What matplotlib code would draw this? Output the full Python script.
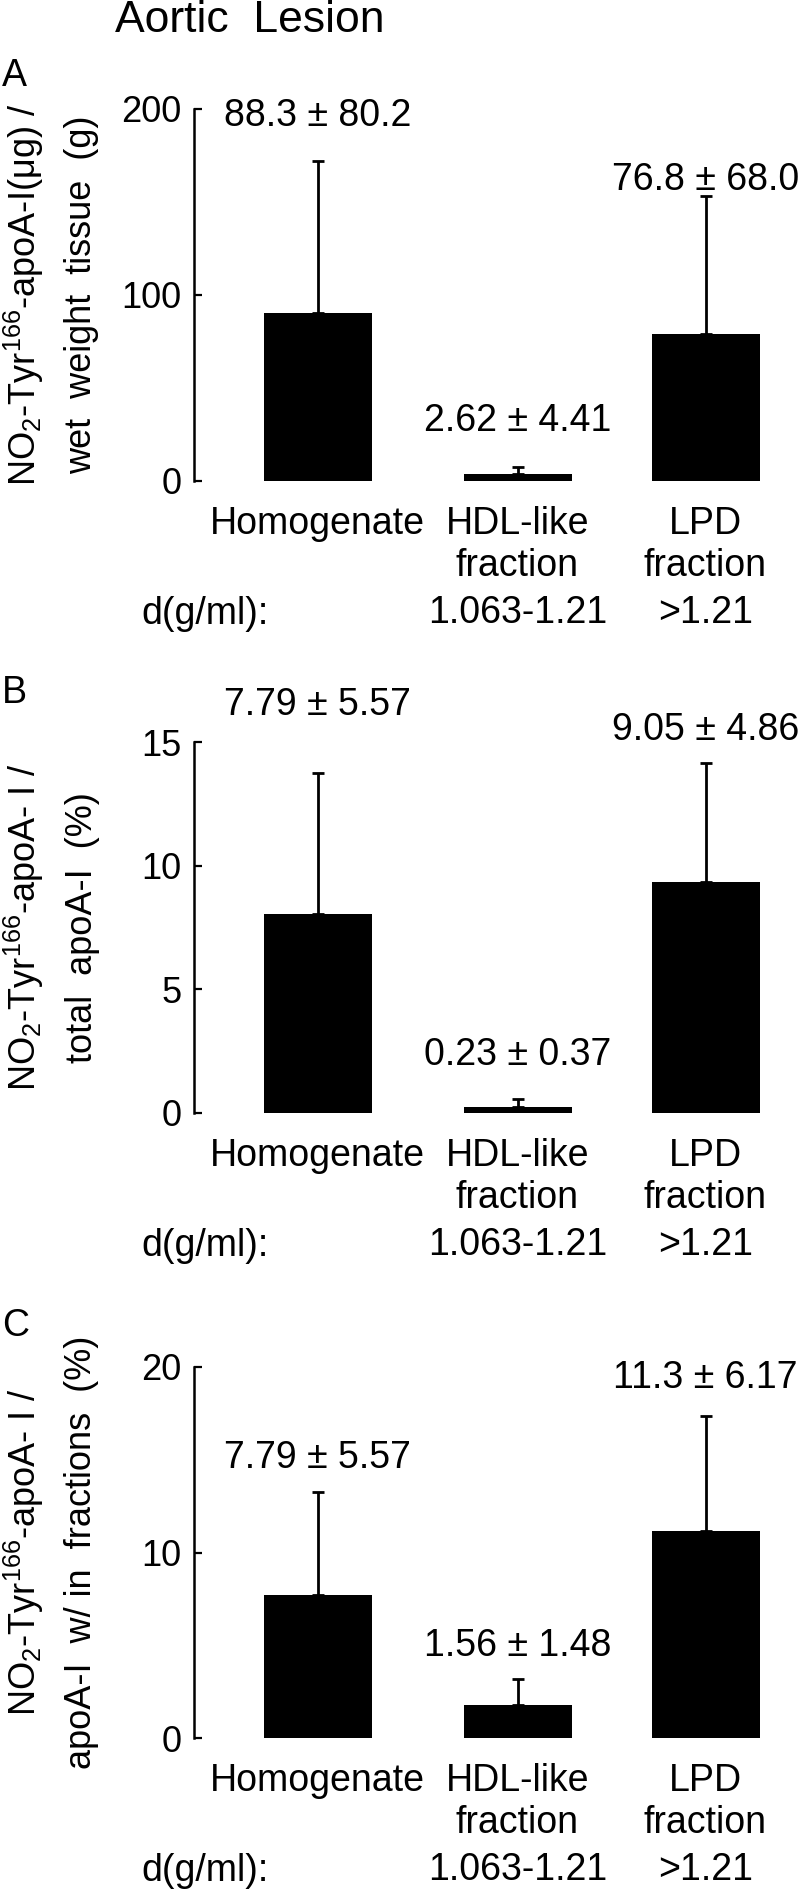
import numpy as np
import matplotlib
matplotlib.use("Agg")
import matplotlib.pyplot as plt

plt.rcParams['font.family'] = ['Liberation Sans', 'DejaVu Sans']
plt.rcParams['mathtext.fontset'] = 'custom'
plt.rcParams['mathtext.rm'] = 'Liberation Sans'
plt.rcParams['mathtext.it'] = 'Liberation Sans:italic'
plt.rcParams['mathtext.bf'] = 'Liberation Sans:bold'

# data
groups = ["Homogenate", "HDL-like", "LPD"]
groups_line2 = ["", "fraction", "fraction"]
density = ["", "1.063-1.21", ">1.21"]

a_mean = [90.5, 3.7, 79.0]
a_err = [81.5, 3.7, 74.0]
a_text = ["88.3 ± 80.2", "2.62 ± 4.41", "76.8 ± 68.0"]

b_mean = [8.05, 0.26, 9.34]
b_err = [5.7, 0.32, 4.8]
b_text = ["7.79 ± 5.57", "0.23 ± 0.37", "9.05 ± 4.86"]

c_mean = [7.73, 1.77, 11.18]
c_err = [5.55, 1.41, 6.19]
c_text = ["7.79 ± 5.57", "1.56 ± 1.48", "11.3 ± 6.17"]

# layout
W, H = 800, 1893
pos = [0, 1, 1.94]
xlims = (-0.6175, 2.4125)
fs = 27

panels = [
    dict(mean=a_mean, err=a_err, text=a_text, top=109, bot=481, ymax=200,
         ticks=[0, 100, 200], text_y=[196, 32, 162], letter="A", letter_y=76,
         l1=r"NO$_2$-Tyr$^{166}$-apoA-I(μg) /", l2="wet  weight  tissue  (g)"),
    dict(mean=b_mean, err=b_err, text=b_text, top=742, bot=1113, ymax=15,
         ticks=[0, 5, 10, 15], text_y=[16.5, 2.36, 15.5], letter="B", letter_y=693,
         l1=r"NO$_2$-Tyr$^{166}$-apoA- I /", l2="total  apoA-I  (%)"),
    dict(mean=c_mean, err=c_err, text=c_text, top=1367, bot=1738, ymax=20,
         ticks=[0, 10, 20], text_y=[15.1, 4.97, 19.4], letter="C", letter_y=1326,
         l1=r"NO$_2$-Tyr$^{166}$-apoA- I /", l2="apoA-I  w/ in  fractions  (%)"),
]

fig = plt.figure(figsize=(W / 100, H / 100), dpi=100)

fig.text(115 / W, 1 - 20 / H, "Aortic  Lesion", fontsize=32, ha='left', va='center')

for p in panels:
    ax = fig.add_axes([194 / W, 1 - p['bot'] / H, (W - 194) / W, (p['bot'] - p['top']) / H])
    ax.bar(pos, p['mean'], width=0.54, color='black')
    ax.errorbar(pos, p['mean'], yerr=[np.zeros(3), p['err']], fmt='none',
                ecolor='black', elinewidth=2, capsize=4.5, capthick=2)
    ax.set_xlim(*xlims)
    ax.set_ylim(0, p['ymax'])
    for s in ['top', 'right', 'bottom']:
        ax.spines[s].set_visible(False)
    ax.spines['left'].set_linewidth(1.8)
    ax.spines['left'].set_bounds(0, p['ymax'])
    ax.set_yticks(p['ticks'])
    ax.tick_params(axis='y', direction='in', length=6, width=1.6, pad=9, labelsize=26)
    ax.set_xticks([])

    for x, yt, t in zip(pos, p['text_y'], p['text']):
        ax.text(x, yt, t, ha='center', va='center', fontsize=fs, clip_on=False)

    for x, g1, g2, d in zip(pos, groups, groups_line2, density):
        ax.annotate(g1, xy=(x, 0), xycoords=('data', 'axes fraction'), xytext=(0, -31),
                    textcoords='offset points', ha='center', va='center', fontsize=fs,
                    annotation_clip=False)
        if g2:
            ax.annotate(g2, xy=(x, 0), xycoords=('data', 'axes fraction'), xytext=(0, -61),
                        textcoords='offset points', ha='center', va='center', fontsize=fs,
                        annotation_clip=False)
        if d:
            ax.annotate(d, xy=(x, 0), xycoords=('data', 'axes fraction'), xytext=(0, -95),
                        textcoords='offset points', ha='center', va='center', fontsize=fs,
                        annotation_clip=False)

    fig.text(205 / W, 1 - (p['bot'] + 133) / H, "d(g/ml):", ha='center', va='center', fontsize=fs)

    mid = 1 - (p['top'] + p['bot']) / 2 / H
    fig.text(24 / W, mid, p['l1'], rotation=90, ha='center', va='center', fontsize=26)
    fig.text(82 / W, mid, p['l2'], rotation=90, ha='center', va='center', fontsize=26)
    fig.text(2 / W, 1 - p['letter_y'] / H, p['letter'], ha='left', va='center', fontsize=27)

fig.savefig("out.png", dpi=100)
